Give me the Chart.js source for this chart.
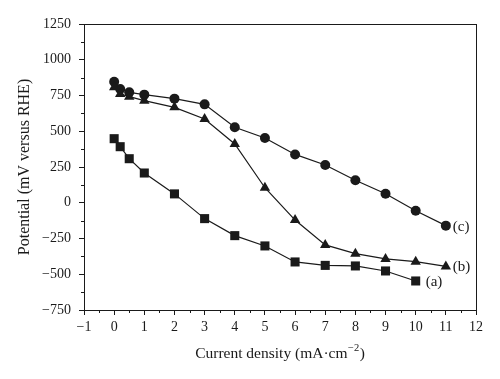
<!DOCTYPE html>
<html>
<head>
<meta charset="utf-8">
<script src="https://cdn.jsdelivr.net/npm/chart.js@4.4.1/dist/chart.umd.min.js"></script>
<style>
  html, body { margin: 0; padding: 0; background: #fff; }
  #wrap { width: 500px; height: 379px; position: relative; }
</style>
</head>
<body>
<div id="wrap"><canvas id="c" width="500" height="379"></canvas></div>
<script>
// ---- Data ----
const xA = [0, 0.2, 0.5, 1, 2, 3, 4, 5, 6, 7, 8, 9, 10];
const potentialA = [448, 392, 308, 208, 62, -111, -230, -302, -414, -438, -442, -477, -547];
const xB = [0, 0.2, 0.5, 1, 2, 3, 4, 5, 6, 7, 8, 9, 10, 11];
const potentialB = [807, 760, 742, 714, 667, 586, 411, 105, -121, -295, -356, -393, -412, -445];
const xC = [0, 0.2, 0.5, 1, 2, 3, 4, 5, 6, 7, 8, 9, 10, 11];
const potentialC = [846, 795, 772, 756, 728, 688, 528, 453, 338, 264, 157, 63, -56, -160];
const seriesLabels = ['(a)', '(b)', '(c)'];
const xTitleParts = ['Current density (mA·cm', '\u22122', ')'];
const yTitle = 'Potential (mV versus RHE)';
const xRange = [-1, 12];
const yRange = [-750, 1250];

const INK = '#1a1a1a';
const FONT = 'Liberation Serif, Times New Roman, serif';

function pts(xs, ys) { return xs.map((x, i) => ({ x: x, y: ys[i] })); }

const boxAndMinorTicks = {
  id: 'boxAndMinorTicks',
  afterDraw(chart) {
    const { ctx, chartArea: a, scales } = chart;
    ctx.save();
    ctx.strokeStyle = INK;
    ctx.lineWidth = 1;
    ctx.strokeRect(Math.round(a.left) + 0.5, Math.round(a.top) + 0.5,
                   Math.round(a.right - a.left), Math.round(a.bottom - a.top));
    // minor ticks
    ctx.beginPath();
    const xs = scales.x, ys = scales.y;
    for (let v = xRange[0] + 0.5; v < xRange[1]; v += 1) {
      const px = Math.round(xs.getPixelForValue(v)) + 0.5;
      ctx.moveTo(px, Math.round(a.bottom));
      ctx.lineTo(px, Math.round(a.bottom) + 3);
    }
    for (let v = yRange[0] + 125; v < yRange[1]; v += 250) {
      const py = Math.round(ys.getPixelForValue(v)) + 0.5;
      ctx.moveTo(Math.round(a.left), py);
      ctx.lineTo(Math.round(a.left) - 3, py);
    }
    ctx.stroke();
    // series end labels
    ctx.fillStyle = INK;
    ctx.font = '15px ' + FONT;
    ctx.textBaseline = 'middle';
    ctx.textAlign = 'left';
    const offs = [10, 7, 7];
    chart.data.datasets.forEach((ds, i) => {
      const meta = chart.getDatasetMeta(i);
      const last = meta.data[meta.data.length - 1];
      ctx.fillText(seriesLabels[i], last.x + offs[i], last.y + 1);
    });
    // x axis title with superscript
    const mainFont = '15.5px ' + FONT;
    const supFont = '10.5px ' + FONT;
    ctx.textBaseline = 'alphabetic';
    ctx.font = mainFont; const w0 = ctx.measureText(xTitleParts[0]).width;
    const w2 = ctx.measureText(xTitleParts[2]).width;
    ctx.font = supFont; const w1 = ctx.measureText(xTitleParts[1]).width + 1;
    const total = w0 + w1 + w2;
    let x0 = (a.left + a.right) / 2 - total / 2;
    const base = 358;
    ctx.font = mainFont; ctx.fillText(xTitleParts[0], x0, base);
    ctx.font = supFont; ctx.fillText(xTitleParts[1], x0 + w0 + 0.5, base - 7);
    ctx.font = mainFont; ctx.fillText(xTitleParts[2], x0 + w0 + w1, base);
    ctx.restore();
  }
};

const common = {
  borderColor: INK,
  backgroundColor: INK,
  pointBackgroundColor: INK,
  pointBorderColor: INK,
  borderWidth: 1.2,
  pointBorderWidth: 0,
  tension: 0,
  showLine: true
};

new Chart(document.getElementById('c'), {
  type: 'scatter',
  data: {
    datasets: [
      Object.assign({ label: seriesLabels[0], data: pts(xA, potentialA), pointStyle: 'rect', pointRadius: 6.4 }, common),
      Object.assign({ label: seriesLabels[1], data: pts(xB, potentialB), pointStyle: 'triangle', pointRadius: 6 }, common),
      Object.assign({ label: seriesLabels[2], data: pts(xC, potentialC), pointStyle: 'circle', pointRadius: 5 }, common)
    ]
  },
  options: {
    responsive: false,
    animation: false,
    devicePixelRatio: 1,
    layout: { padding: { left: 0, top: 24, right: 24, bottom: 0 } },
    plugins: { legend: { display: false }, tooltip: { enabled: false } },
    scales: {
      x: {
        type: 'linear',
        min: xRange[0], max: xRange[1],
        border: { display: false },
        grid: { display: true, drawOnChartArea: false, drawTicks: true, tickLength: 5, color: INK, tickColor: INK, tickWidth: 1 },
        ticks: { stepSize: 1, color: INK, font: { family: FONT, size: 14 }, padding: 4, maxRotation: 0,
                 callback: v => String(v).replace('-', '\u2212') },
        title: { display: false },
        afterFit(s) { s.height = 69; }
      },
      y: {
        type: 'linear',
        min: yRange[0], max: yRange[1],
        border: { display: false },
        grid: { display: true, drawOnChartArea: false, drawTicks: true, tickLength: 5, color: INK, tickColor: INK, tickWidth: 1 },
        ticks: { stepSize: 250, color: INK, font: { family: FONT, size: 14 }, padding: 8,
                 callback: v => String(v).replace('-', '\u2212') },
        title: { display: true, text: yTitle, color: INK, font: { family: FONT, size: 16 }, padding: { top: 15, bottom: 0 } },
        afterFit(s) { s.width = 84; }
      }
    }
  },
  plugins: [boxAndMinorTicks]
});
</script>
</body>
</html>
